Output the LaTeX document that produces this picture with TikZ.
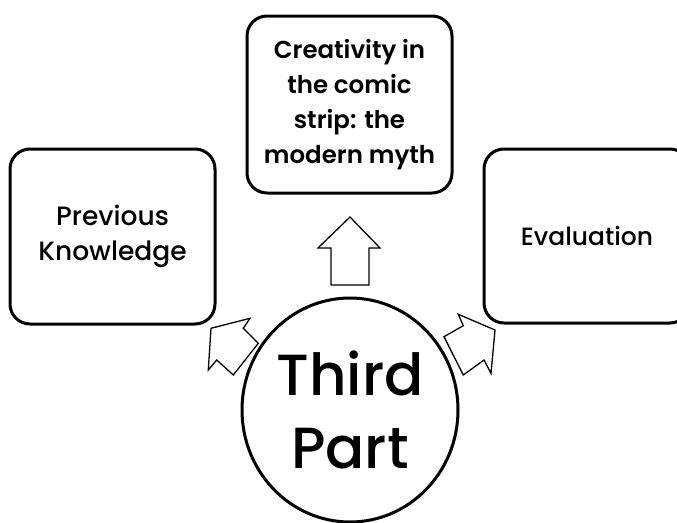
\documentclass[tikz,border=0pt]{standalone}
\usepackage{fontspec}
\setmainfont{Poppins}
\newfontfamily\popmed{Poppins Medium}
\newfontfamily\popsemi{Poppins SemiBold}
\usetikzlibrary{shapes.geometric}
\tikzset{
  roundbox/.style={draw=black, line width=3pt, rounded corners=20pt, rectangle,
    align=center, inner sep=0pt},
  ovalnode/.style={draw=black, line width=3pt, ellipse, align=center, inner sep=0pt,
    font=\popmed\fontsize{58}{73}\selectfont},
  blockarrow/.style={draw=black, line width=1.3pt, line join=miter, fill=white}
}
\begin{document}
\begin{tikzpicture}[x=1pt,y=-1pt]
\useasboundingbox (0,0) rectangle (677,522);
\clip (0,0) rectangle (677,522);
\fill[white] (0,0) rectangle (677,522);

\node[roundbox, minimum width=205pt, minimum height=175pt, font=\popmed\fontsize{26.5}{35}\selectfont] (prev) at (112.5,236.5) {Previous\\Knowledge};
\node[roundbox, minimum width=205pt, minimum height=177pt, font=\popsemi\fontsize{24.5}{35}\selectfont] (crea) at (349.5,104.5) {Creativity in\\the comic\\strip: the\\modern myth};
\node[roundbox, minimum width=206pt, minimum height=174pt, font=\popmed\fontsize{25}{35}\selectfont] (eval) at (587,236) {Evaluation};
\node[ovalnode, minimum width=216pt, minimum height=224pt] (third) at (350,410) {Third\\Part};

% block arrows
\draw[blockarrow] (350,217) -- (380,248) -- (369,248) -- (369,285) -- (331,285) -- (331,248) -- (318,248) -- cycle;
\draw[blockarrow] (211,328.3) -- (250,318.3) -- (243.3,328.3) -- (258.3,343.3) -- (233.3,375) -- (216.7,360) -- (208.3,370) -- cycle;
\draw[blockarrow] (495,330) -- (458.3,314.3) -- (463.3,325.7) -- (444,336.7) -- (463.3,375) -- (484,360) -- (491,373.3) -- cycle;
\end{tikzpicture}
\end{document}
